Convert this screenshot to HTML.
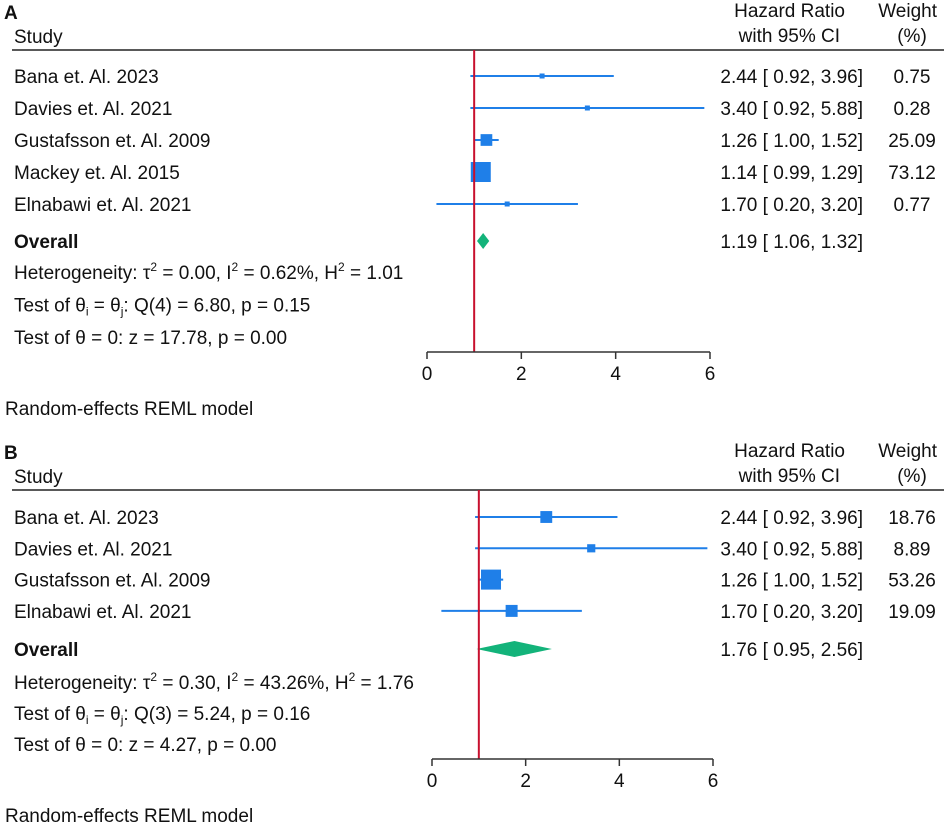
<!DOCTYPE html>
<html><head><meta charset="utf-8"><style>
body{margin:0;background:#fff}
svg text{font-family:"Liberation Sans",Arial,sans-serif;font-size:19px;fill:#111}
</style></head><body>
<svg id="chart" width="948" height="824" xmlns="http://www.w3.org/2000/svg"></svg>
<script>
const studiesA=["Bana et. Al. 2023","Davies et. Al. 2021","Gustafsson et. Al. 2009","Mackey et. Al. 2015","Elnabawi et. Al. 2021"];
const hrA=[2.44,3.40,1.26,1.14,1.70];
const loA=[0.92,0.92,1.00,0.99,0.20];
const hiA=[3.96,5.88,1.52,1.29,3.20];
const wA=[0.75,0.28,25.09,73.12,0.77];
const overallA=[1.19,1.06,1.32];
const hetA=["Heterogeneity: τ<tspan dy='-8' font-size='12'>2</tspan><tspan dy='8'> = 0.00, I</tspan><tspan dy='-8' font-size='12'>2</tspan><tspan dy='8'> = 0.62%, H</tspan><tspan dy='-8' font-size='12'>2</tspan><tspan dy='8'> = 1.01</tspan>",
"Test of θ<tspan dy='4' font-size='12'>i</tspan><tspan dy='-4'> = θ</tspan><tspan dy='4' font-size='12'>j</tspan><tspan dy='-4'>: Q(4) = 6.80, p = 0.15</tspan>",
"Test of θ = 0: z = 17.78, p = 0.00"];
const studiesB=["Bana et. Al. 2023","Davies et. Al. 2021","Gustafsson et. Al. 2009","Elnabawi et. Al. 2021"];
const hrB=[2.44,3.40,1.26,1.70];
const loB=[0.92,0.92,1.00,0.20];
const hiB=[3.96,5.88,1.52,3.20];
const wB=[18.76,8.89,53.26,19.09];
const overallB=[1.76,0.95,2.56];
const hetB=["Heterogeneity: τ<tspan dy='-8' font-size='12'>2</tspan><tspan dy='8'> = 0.30, I</tspan><tspan dy='-8' font-size='12'>2</tspan><tspan dy='8'> = 43.26%, H</tspan><tspan dy='-8' font-size='12'>2</tspan><tspan dy='8'> = 1.76</tspan>",
"Test of θ<tspan dy='4' font-size='12'>i</tspan><tspan dy='-4'> = θ</tspan><tspan dy='4' font-size='12'>j</tspan><tspan dy='-4'>: Q(3) = 5.24, p = 0.16</tspan>",
"Test of θ = 0: z = 4.27, p = 0.00"];
const ticks=[0,2,4,6];

const svg=document.getElementById('chart');
const NS="http://www.w3.org/2000/svg";
function mk(tag,attrs,name,parent){const e=document.createElementNS(NS,tag);for(const k in attrs)e.setAttribute(k,attrs[k]);


(parent||svg).appendChild(e);return e;}
function txt(x,y,s,name,opts){const t=mk('text',Object.assign({x:x,y:y},opts||{}),name);t.innerHTML=s;return t;}
const f=v=>v.toFixed(2);
function panel(o){
  const X=v=>o.x0+v*(o.x6-o.x0)/6;
  txt(4,o.top+19,o.label,'panel-label',{'font-weight':'bold','font-size':'23'});
  txt(845,o.top+17,'Hazard Ratio','hr-header',{'text-anchor':'end'});
  txt(840,o.top+42,'with 95% CI','ci-header',{'text-anchor':'end'});
  txt(937,o.top+17,'Weight','weight-header',{'text-anchor':'end'});
  txt(912,o.top+42,'(%)','weight-unit-header',{'text-anchor':'middle'});
  txt(14,o.top+43,'Study','study-header');
  mk('line',{x1:12,x2:944,y1:o.top+50,y2:o.top+50,stroke:'#222','stroke-width':1.5},'header-rule');
  const maxw=Math.max(...o.w);
  o.s.forEach((s,i)=>{
    const y=o.rowY+i*o.dy;
    txt(14,y+7,s,'study-label');
    mk('line',{x1:X(o.lo[i]),x2:X(o.hi[i]),y1:y,y2:y,stroke:'#1f7fe8','stroke-width':2},'ci-line');
    const sz=Math.max(5,20*Math.sqrt(o.w[i]/maxw));
    mk('rect',{x:X(o.hr[i])-sz/2,y:y-sz/2,width:sz,height:sz,fill:'#1f7fe8'},'study-marker');
    txt(863,y+7,f(o.hr[i])+' [ '+f(o.lo[i])+', '+f(o.hi[i])+']','hr-ci-value',{'text-anchor':'end'});
    txt(912,y+7,f(o.w[i]),'weight-value',{'text-anchor':'middle'});
  });
  const oy=o.ovY;
  txt(14,oy+7,'Overall','overall-label',{'font-weight':'bold'});
  const ov=o.ov;
  mk('polygon',{points:`${X(ov[1])},${oy} ${X(ov[0])},${oy-o.dh} ${X(ov[2])},${oy} ${X(ov[0])},${oy+o.dh}`,fill:'#13b37a'},'overall-diamond');
  txt(863,oy+7,f(ov[0])+' [ '+f(ov[1])+', '+f(ov[2])+']','overall-value',{'text-anchor':'end'});
  o.het.forEach((h,i)=>txt(14,o.hetY+i*o.hetDy,h,'heterogeneity-stat'));
  mk('line',{x1:X(1),x2:X(1),y1:o.top+50,y2:o.axisY,stroke:'#c8102e','stroke-width':2},'reference-line');
  mk('line',{x1:X(0),x2:X(6),y1:o.axisY,y2:o.axisY,stroke:'#333','stroke-width':1.5},'x-axis');
  ticks.forEach(t=>{mk('line',{x1:X(t),x2:X(t),y1:o.axisY,y2:o.axisY+7,stroke:'#333','stroke-width':1.5},'x-tick');
    txt(X(t),o.axisY+28,String(t),'x-tick-label',{'text-anchor':'middle'});});
  txt(5,o.axisY+63,'Random-effects REML model','model-note');
}
panel({label:'A',top:0,x0:427,x6:710,s:studiesA,hr:hrA,lo:loA,hi:hiA,w:wA,ov:overallA,het:hetA,rowY:76,dy:32,ovY:241,dh:8,hetY:279,hetDy:32.5,axisY:352});
panel({label:'B',top:440,x0:432,x6:713,s:studiesB,hr:hrB,lo:loB,hi:hiB,w:wB,ov:overallB,het:hetB,rowY:517,dy:31.3,ovY:649,dh:8,hetY:689,hetDy:31,axisY:759});
</script>
</body></html>
